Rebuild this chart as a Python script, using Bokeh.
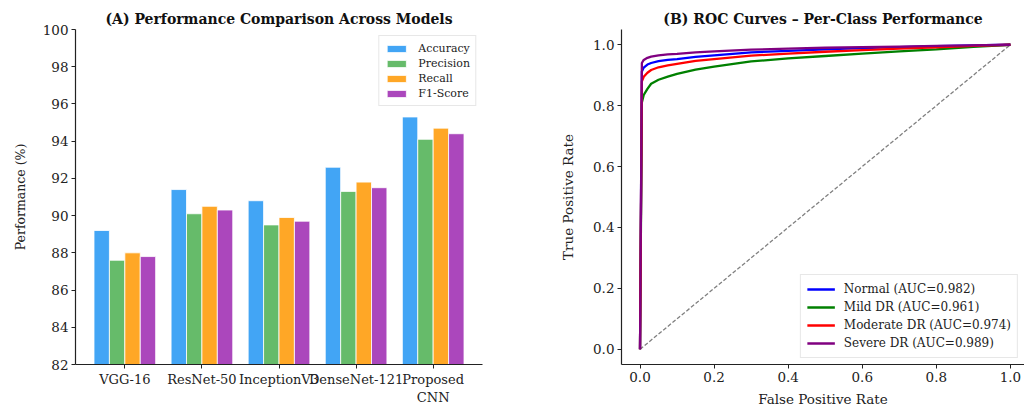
from bokeh.plotting import figure
from bokeh.models import Range1d, FixedTicker, PrintfTickFormatter, Legend, LegendItem
from bokeh.layouts import row
from bokeh.embed import file_html
from bokeh.resources import INLINE

FONT = "DejaVu Serif"

# ---------------- data: panel A ----------------
models = ["VGG-16", "ResNet-50", "InceptionV3", "DenseNet-121", "Proposed\nCNN"]
metrics = ["Accuracy", "Precision", "Recall", "F1-Score"]
accuracy = [89.2, 91.4, 90.8, 92.6, 95.3]
precision = [87.6, 90.1, 89.5, 91.3, 94.1]
recall = [88.0, 90.5, 89.9, 91.8, 94.7]
f1_score = [87.8, 90.3, 89.7, 91.5, 94.4]
bar_colors = ["#42A5F5", "#66BB6A", "#FFA726", "#AB47BC"]
y_ticks_a = [82, 84, 86, 88, 90, 92, 94, 96, 98, 100]

# ---------------- data: panel B ----------------
fpr = [0.0, 0.005, 0.01, 0.02, 0.03, 0.05, 0.075, 0.1, 0.15, 0.2, 0.3, 0.4, 0.5, 0.6, 0.7, 0.8, 0.9, 1.0]
tpr_normal = [0.0, 0.912, 0.925, 0.935, 0.940, 0.946, 0.950, 0.953, 0.960, 0.965, 0.975, 0.980, 0.985, 0.989, 0.992, 0.995, 0.998, 1.0]
tpr_mild = [0.0, 0.810, 0.835, 0.855, 0.872, 0.885, 0.895, 0.904, 0.918, 0.928, 0.945, 0.955, 0.963, 0.971, 0.978, 0.985, 0.993, 1.0]
tpr_moderate = [0.0, 0.880, 0.895, 0.908, 0.917, 0.926, 0.932, 0.937, 0.947, 0.953, 0.964, 0.971, 0.977, 0.982, 0.987, 0.991, 0.996, 1.0]
tpr_severe = [0.0, 0.940, 0.950, 0.957, 0.961, 0.965, 0.968, 0.970, 0.975, 0.978, 0.984, 0.987, 0.990, 0.992, 0.994, 0.996, 0.998, 1.0]
roc_labels = ["Normal (AUC=0.982)", "Mild DR (AUC=0.961)", "Moderate DR (AUC=0.974)", "Severe DR (AUC=0.989)"]
roc_colors = ["#0000ff", "#008000", "#ff0000", "#800080"]
unit_ticks = [0.0, 0.2, 0.4, 0.6, 0.8, 1.0]


def style(p, tick_size, label_size):
    p.grid.visible = False
    p.outline_line_color = None
    p.background_fill_color = "white"
    p.border_fill_color = "white"
    for ax in (p.xaxis, p.yaxis):
        ax.axis_line_color = "#222222"
        ax.axis_line_width = 1.2
        ax.major_tick_line_color = "#222222"
        ax.major_tick_out = 4
        ax.major_tick_in = 0
        ax.minor_tick_line_color = None
        ax.major_label_text_font = FONT
        ax.major_label_text_color = "#222222"
        ax.major_label_text_font_size = tick_size
        ax.axis_label_text_font = FONT
        ax.axis_label_text_font_style = "normal"
        ax.axis_label_text_color = "#222222"
        ax.axis_label_text_font_size = label_size
        ax.major_label_standoff = 3
        ax.axis_label_standoff = 6
    p.yaxis.axis_label_standoff = 12
    p.title.text_font = FONT
    p.title.text_font_style = "bold"
    p.title.text_font_size = "14px"
    p.title.align = "center"
    p.title.standoff = 6
    p.title.text_color = "#111111"


# ---------------- panel A ----------------
p1 = figure(width=540, height=409, output_backend="svg", toolbar_location=None,
            x_range=Range1d(-0.64, 4.64), y_range=Range1d(82, 100),
            title="(A) Performance Comparison Across Models",
            min_border_left=75, min_border_right=58, min_border_top=29, min_border_bottom=43)
style(p1, "13.5px", "12.5px")
p1.xaxis.major_label_text_font_size = "13px"

series = [accuracy, precision, recall, f1_score]
offsets = [-0.3, -0.1, 0.1, 0.3]
items = []
for vals, name, col, off in zip(series, metrics, bar_colors, offsets):
    xs = [i + off for i in range(len(models))]
    r = p1.vbar(x=xs, top=vals, bottom=82, width=0.2, fill_color=col, fill_alpha=1.0,
                line_color="white", line_width=0.8)
    items.append(LegendItem(label=name, renderers=[r]))

p1.xaxis.ticker = FixedTicker(ticks=list(range(len(models))))
p1.xaxis.major_label_overrides = {i: m for i, m in enumerate(models)}
p1.yaxis.ticker = FixedTicker(ticks=y_ticks_a)
p1.yaxis.axis_label = "Performance (%)"

leg1 = Legend(items=items, location="top_right")
leg1.label_text_font = FONT
leg1.label_text_font_size = "11px"
leg1.label_text_color = "#222222"
leg1.glyph_width = 24
leg1.glyph_height = 9
leg1.label_height = 14
leg1.spacing = 1
leg1.padding = 5
leg1.margin = 6
leg1.label_standoff = 10
leg1.border_line_color = "#d0d0d0"
leg1.background_fill_alpha = 0.85
p1.add_layout(leg1)

# ---------------- panel B ----------------
p2 = figure(width=484, height=409, output_backend="svg", toolbar_location=None,
            x_range=Range1d(-0.05, 1.038), y_range=Range1d(-0.05, 1.05),
            title="(B) ROC Curves \u2013 Per-Class Performance",
            min_border_left=81, min_border_right=0, min_border_top=29, min_border_bottom=43)
style(p2, "13.5px", "13.5px")
p2.yaxis.axis_label_standoff = 14

p2.line([0, 1], [0, 1], line_color="gray", line_dash="4 2", line_width=1.3)
items2 = []
for tpr, lab, col in zip([tpr_normal, tpr_mild, tpr_moderate, tpr_severe], roc_labels, roc_colors):
    r = p2.line(fpr, tpr, line_color=col, line_width=2.3)
    items2.append(LegendItem(label=lab, renderers=[r]))

p2.xaxis.ticker = FixedTicker(ticks=unit_ticks)
p2.yaxis.ticker = FixedTicker(ticks=unit_ticks)
p2.xaxis.formatter = PrintfTickFormatter(format="%.1f")
p2.yaxis.formatter = PrintfTickFormatter(format="%.1f")
p2.xaxis.axis_label = "False Positive Rate"
p2.yaxis.axis_label = "True Positive Rate"

leg2 = Legend(items=items2, location="bottom_right")
leg2.label_text_font = FONT
leg2.label_text_font_size = "12px"
leg2.label_text_color = "#222222"
leg2.glyph_width = 28
leg2.glyph_height = 14
leg2.label_height = 16
leg2.spacing = 2
leg2.padding = 6
leg2.margin = 6
leg2.label_standoff = 9
leg2.border_line_color = "#d0d0d0"
leg2.background_fill_alpha = 0.85
p2.add_layout(leg2)

layout = row(p1, p2)
open("out.html", "w").write(file_html(layout, INLINE))
